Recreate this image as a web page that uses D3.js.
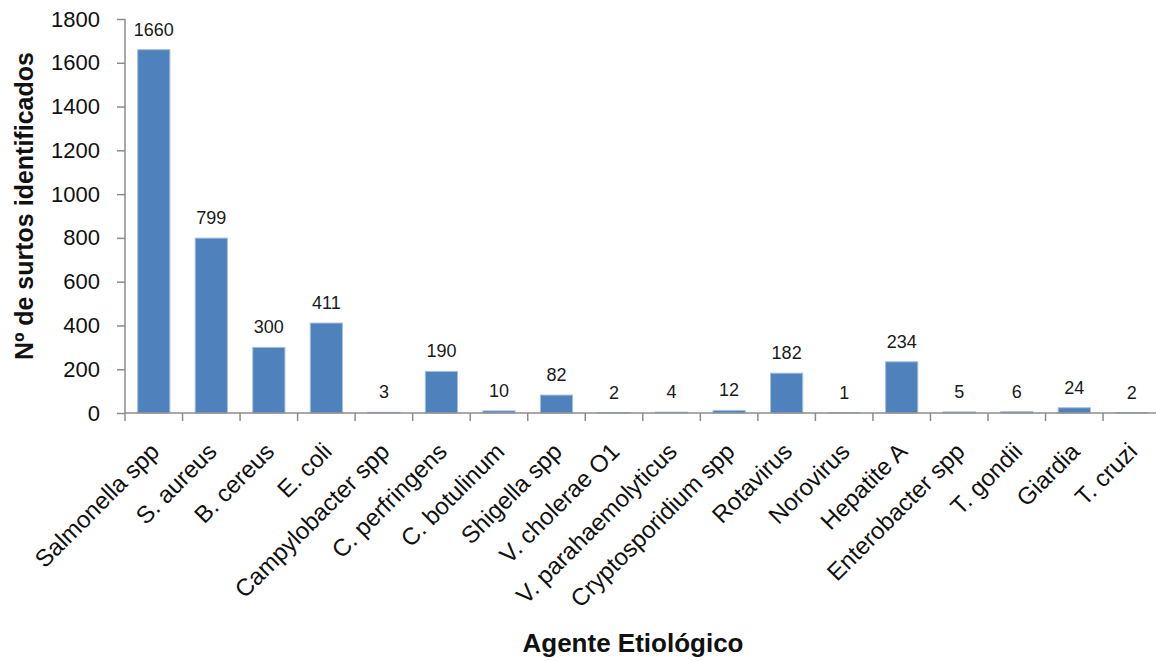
<!DOCTYPE html>
<html>
<head>
<meta charset="utf-8">
<script src="https://cdn.jsdelivr.net/npm/d3@7"></script>
<style>
  html, body { margin: 0; padding: 0; background: #fff; }
  svg { display: block; font-family: Arial, "Liberation Sans", sans-serif; }
</style>
</head>
<body>
<svg id="chart" width="1156" height="661"></svg>
<script>
// Outbreaks by etiological agent
const agents = [
  "Salmonella spp", "S. aureus", "B. cereus", "E. coli", "Campylobacter spp",
  "C. perfringens", "C. botulinum", "Shigella spp", "V. cholerae O1",
  "V. parahaemolyticus", "Cryptosporidium spp", "Rotavirus", "Norovirus",
  "Hepatite A", "Enterobacter spp", "T. gondii", "Giardia", "T. cruzi"
];
const outbreaks = [1660, 799, 300, 411, 3, 190, 10, 82, 2, 4, 12, 182, 1, 234, 5, 6, 24, 2];
const yTicks = [0, 200, 400, 600, 800, 1000, 1200, 1400, 1600, 1800];

(function draw() {
  const svg = d3.select("#chart");
  const plotL = 125, plotR = 1160.6, plotT = 19, plotB = 413;

  const x = d3.scaleBand().domain(agents).range([plotL, plotR]).paddingInner(0.44).paddingOuter(0.22);
  const y = d3.scaleLinear().domain([0, 1800]).range([plotB, plotT]);

  const axisColor = "#8c8c8c";

  // bars
  svg.append("g").selectAll("rect").data(outbreaks).join("rect")
    .attr("x", (d, i) => x(agents[i]))
    .attr("width", x.bandwidth())
    .attr("y", d => y(d))
    .attr("height", d => plotB - y(d))
    .attr("fill", "#4f81bd")
    .attr("stroke", "#a7c0de")
    .attr("stroke-width", 1);

  // value labels
  svg.append("g").selectAll("text").data(outbreaks).join("text")
    .attr("x", (d, i) => x(agents[i]) + x.bandwidth() / 2)
    .attr("y", d => y(d) - 14)
    .attr("text-anchor", "middle")
    .attr("font-size", 18)
    .attr("fill", "#1a1a1a")
    .text(d => d);

  // y axis
  const yAxis = d3.axisLeft(y).tickValues(yTicks).tickSize(8).tickPadding(17).tickFormat(d3.format("d"));
  const gy = svg.append("g").attr("transform", `translate(${plotL},0)`).call(yAxis);
  gy.select(".domain").attr("stroke", axisColor).attr("stroke-width", 1.5).attr("d", `M0,${plotT}V${plotB}`);
  gy.selectAll(".tick line").attr("stroke", axisColor).attr("stroke-width", 1.5);
  gy.selectAll(".tick text").attr("font-size", 22).attr("fill", "#111").attr("font-family", "Arial, 'Liberation Sans', sans-serif");

  // x axis: category boundaries as tick marks
  const gx = svg.append("g");
  gx.append("line").attr("x1", plotL).attr("x2", plotR).attr("y1", plotB).attr("y2", plotB)
    .attr("stroke", axisColor).attr("stroke-width", 1.5);
  const step = x.step();
  gx.selectAll("line.tk").data(d3.range(agents.length + 1)).join("line")
    .attr("class", "tk")
    .attr("x1", i => plotL + i * step).attr("x2", i => plotL + i * step)
    .attr("y1", plotB).attr("y2", plotB + 8)
    .attr("stroke", axisColor).attr("stroke-width", 1.5);

  // rotated category labels
  gx.selectAll("text").data(agents).join("text")
    .attr("transform", d => `translate(${x(d) + x.bandwidth() / 2 + 7},${plotB + 40}) rotate(-45)`)
    .attr("text-anchor", "end")
    .attr("font-size", 24)
    .attr("fill", "#111")
    .text(d => d);

  // axis titles
  svg.append("text")
    .attr("transform", `translate(33,206) rotate(-90)`)
    .attr("text-anchor", "middle")
    .attr("font-size", 25)
    .attr("font-weight", "bold")
    .attr("fill", "#111")
    .text("Nº de surtos identificados");

  svg.append("text")
    .attr("x", 633).attr("y", 652)
    .attr("text-anchor", "middle")
    .attr("font-size", 26)
    .attr("font-weight", "bold")
    .attr("fill", "#111")
    .text("Agente Etiológico");
})();
</script>
</body>
</html>
